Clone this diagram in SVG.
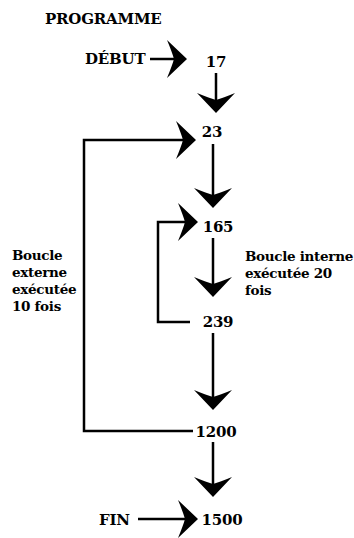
<svg xmlns="http://www.w3.org/2000/svg" width="354" height="538" viewBox="0 0 354 538">
<style>
text{font-family:'DejaVu Serif',serif;font-weight:bold;font-size:15px;fill:#000;letter-spacing:-0.2px}
.c{text-anchor:middle}
.m{font-size:13.5px;letter-spacing:-0.3px}
.ln{stroke:#000;stroke-width:2.5;fill:none}
.ah{fill:#000}
</style>
<defs>
<path id="ah" class="ah" d="M0,0 L-20,-19 Q-15,-7 -13,0 Q-15,7 -20,19 Z"/>
</defs>
<rect width="354" height="538" fill="#fff"/>
<g id="connectors">
<line class="ln" x1="150" y1="59" x2="176" y2="59"/>
<use href="#ah" transform="translate(187,59)"/>
<line class="ln" x1="216" y1="73" x2="216" y2="101"/>
<use href="#ah" transform="translate(216,113) rotate(90)"/>
<polyline class="ln" points="193,431 84,431 84,140 184,140"/>
<use href="#ah" transform="translate(196,140)"/>
<line class="ln" x1="213" y1="144" x2="213" y2="196"/>
<use href="#ah" transform="translate(213,208) rotate(90)"/>
<polyline class="ln" points="190,322 158,322 158,222 186,222"/>
<use href="#ah" transform="translate(198,222)"/>
<line class="ln" x1="213" y1="238" x2="213" y2="285"/>
<use href="#ah" transform="translate(213,297) rotate(90)"/>
<line class="ln" x1="213" y1="333" x2="213" y2="398"/>
<use href="#ah" transform="translate(213,410) rotate(90)"/>
<line class="ln" x1="213" y1="442" x2="213" y2="485"/>
<use href="#ah" transform="translate(213,497) rotate(90)"/>
<line class="ln" x1="138" y1="519" x2="186" y2="519"/>
<use href="#ah" transform="translate(198,519)"/>
</g>
<g id="title"><text x="45" y="24">PROGRAMME</text></g>
<g id="debut"><text x="85" y="64">DÉBUT</text></g>
<g id="n17"><text class="c" x="216" y="67">17</text></g>
<g id="n23"><text class="c" x="212" y="137">23</text></g>
<g id="n165"><text class="c" x="218" y="232">165</text></g>
<g id="n239"><text class="c" x="218" y="327">239</text></g>
<g id="n1200"><text class="c" x="216" y="437">1200</text></g>
<g id="n1500"><text class="c" x="222" y="525">1500</text></g>
<g id="fin"><text x="99" y="525">FIN</text></g>
<g id="inner-label"><text class="m" x="245" y="261">Boucle interne</text><text class="m" x="245" y="278">exécutée 20</text><text class="m" x="245" y="295">fois</text></g>
<g id="outer-label"><text class="m" x="12" y="260">Boucle</text><text class="m" x="12" y="277">externe</text><text class="m" x="12" y="294">exécutée</text><text class="m" x="12" y="311">10 fois</text></g>
</svg>
